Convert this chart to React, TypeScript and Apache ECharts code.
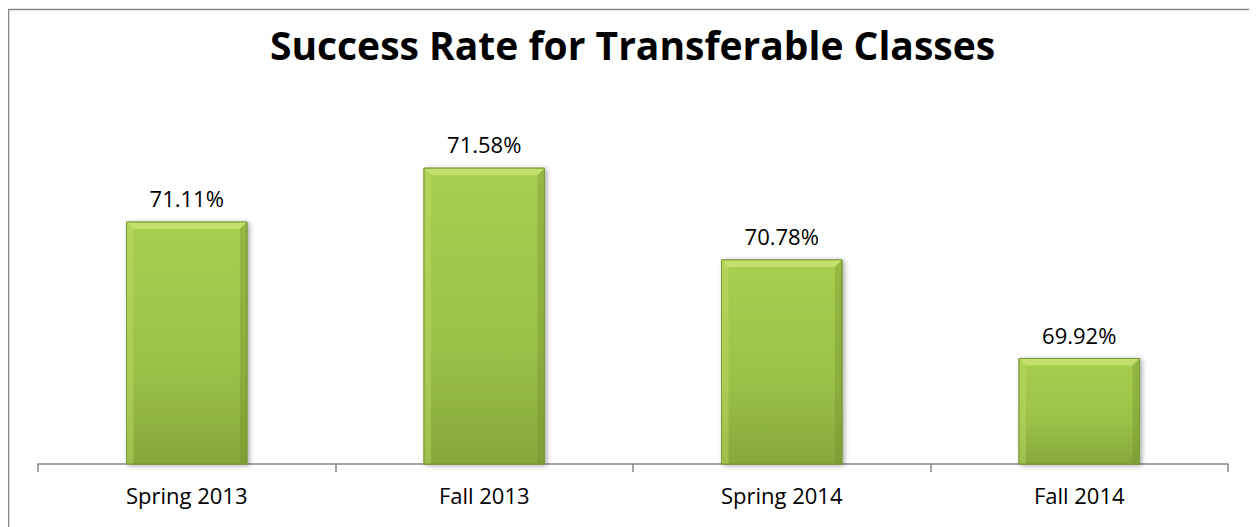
import React, { useEffect, useRef } from "react";
import * as echarts from "echarts";

const categories = ["Spring 2013", "Fall 2013", "Spring 2014", "Fall 2014"];
const successRates = [71.11, 71.58, 70.78, 69.92];
const titleText = "Success Rate for Transferable Classes";
const yMin = 69;
const yMax = 72;

export default function App() {
  const ref = useRef<HTMLDivElement>(null);
  useEffect(() => {
    if (!ref.current) return;
    const chart = echarts.init(ref.current, null, { renderer: "svg" });
    const bodyGrad = new echarts.graphic.LinearGradient(0, 0, 0, 1, [
      { offset: 0, color: "#a9cf50" },
      { offset: 0.6, color: "#9bc148" },
      { offset: 1, color: "#86a83a" },
    ]);
    chart.setOption({
      animation: false,
      backgroundColor: "#ffffff",
      title: {
        text: titleText,
        left: "center",
        top: 12,
        textStyle: { fontFamily: "Open Sans", fontWeight: "bold", fontSize: 39, color: "#000" },
      },
      graphic: [
        {
          type: "rect",
          shape: { x: 0.5, y: 1.5, width: 1247, height: 530 },
          style: { fill: "none", stroke: "#868686", lineWidth: 1.5 },
          silent: true,
        },
      ],
      grid: { left: 30, right: 29, top: 112, bottom: 63 },
      xAxis: {
        type: "category",
        data: categories,
        axisLine: { lineStyle: { color: "#868686", width: 1.5 } },
        axisTick: { show: true, length: 8, lineStyle: { color: "#868686", width: 1.5 } },
        axisLabel: { fontFamily: "Open Sans", fontSize: 22, color: "#000", margin: 20 },
      },
      yAxis: { type: "value", min: yMin, max: yMax, show: false, splitLine: { show: false } },
      series: [
        {
          type: "custom",
          data: successRates.map((v, i) => [i, v]),
          encode: { x: 0, y: 1 },
          z: 1,
          renderItem: (params: any, api: any) => {
            const idx = api.value(0);
            const val = api.value(1);
            const top = api.coord([idx, val]);
            const base = api.coord([idx, yMin]);
            const bw = api.size([1, 0])[0] * 0.405;
            const x0 = top[0] - bw / 2;
            const x1 = top[0] + bw / 2;
            const y0 = top[1];
            const y1 = base[1];
            const b = 7;
            return {
              type: "group",
              children: [
                {
                  type: "rect",
                  shape: { x: x0, y: y0, width: bw, height: y1 - y0 },
                  style: {
                    fill: bodyGrad,
                    stroke: "#7d9c38",
                    lineWidth: 1,
                    shadowColor: "rgba(0,0,0,0.35)",
                    shadowBlur: 5,
                    shadowOffsetX: 2,
                    shadowOffsetY: 1,
                  },
                },
                {
                  type: "polygon",
                  shape: { points: [[x0, y0], [x1, y0], [x1 - b, y0 + b], [x0 + b, y0 + b]] },
                  style: { fill: "#c3e06c" },
                },
                {
                  type: "polygon",
                  shape: { points: [[x0, y0], [x0 + b, y0 + b], [x0 + b, y1], [x0, y1]] },
                  style: { fill: "rgba(190,220,100,0.45)" },
                },
                {
                  type: "polygon",
                  shape: { points: [[x1, y0], [x1 - b, y0 + b], [x1 - b, y1], [x1, y1]] },
                  style: { fill: "rgba(110,140,40,0.35)" },
                },
                {
                  type: "rect",
                  shape: { x: x0, y: y0, width: bw, height: y1 - y0 },
                  style: { fill: "none", stroke: "#7d9c38", lineWidth: 1 },
                },
                {
                  type: "text",
                  style: {
                    text: val.toFixed(2) + "%",
                    x: top[0],
                    y: y0 - 13,
                    align: "center",
                    verticalAlign: "bottom",
                    fontFamily: "Open Sans",
                    fontSize: 22,
                    fill: "#000",
                  },
                },
              ],
            };
          },
        },
      ],
    });
    return () => chart.dispose();
  }, []);
  return <div ref={ref} style={{ width: 1249, height: 519 }} />;
}
